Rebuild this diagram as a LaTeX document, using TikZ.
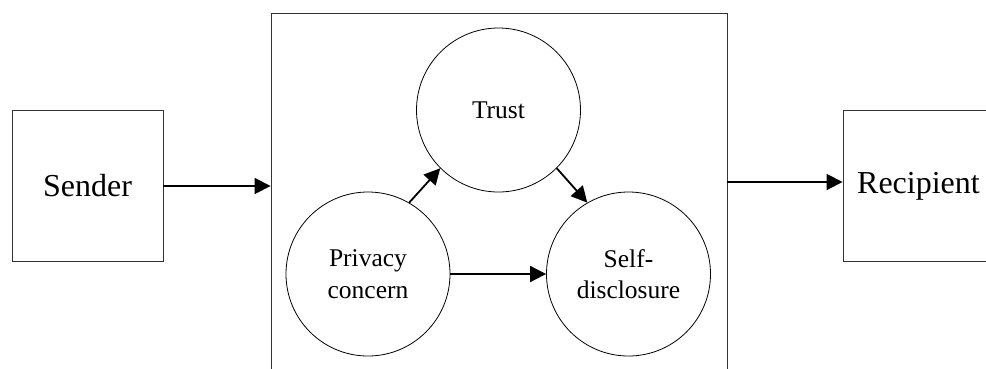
\documentclass[tikz,border=0pt]{standalone}
\usepackage{fontspec}
\setmainfont{Liberation Serif}
\usetikzlibrary{arrows.meta}
\begin{document}
\begin{tikzpicture}[x=1pt,y=-1pt,
  boxnode/.style={draw=black!80, line width=0.9pt, minimum width=151pt, minimum height=151pt, inner sep=0pt, font=\fontsize{32}{38}\selectfont},
  circnode/.style={draw=black, line width=0.8pt, circle, minimum size=164pt, inner sep=0pt, align=center, font=\fontsize{25.5}{31.7}\selectfont},
  arr/.style={draw=black, line width=1.8pt, -{Triangle[length=16pt,width=16pt]}}]
\clip (0,0) rectangle (986,368);
\node[boxnode] (sender) at (87.5,186) {Sender};
\node[boxnode] (recipient) at (918.5,186) {Recipient};
\node[draw=black!80, line width=0.9pt, minimum width=456pt, minimum height=387pt, inner sep=0pt] (frame) at (499,206.5) {};
\node[circnode] (trust) at (498.5,110) {Trust};
\node[circnode] (priv) at (368,274) {Privacy\\concern};
\node[circnode] (self) at (628.5,274) {Self-\\disclosure};
\draw[arr] (sender.east) -- (sender.east -| frame.west);
\draw[arr] ([yshift=4pt]recipient.west -| frame.east) -- ([yshift=4pt]recipient.west);
\draw[arr] (priv.60) -- (trust.225);
\draw[arr] (trust.-45) -- (self.120);
\draw[arr] (priv.east) -- (self.west);
\end{tikzpicture}
\end{document}
